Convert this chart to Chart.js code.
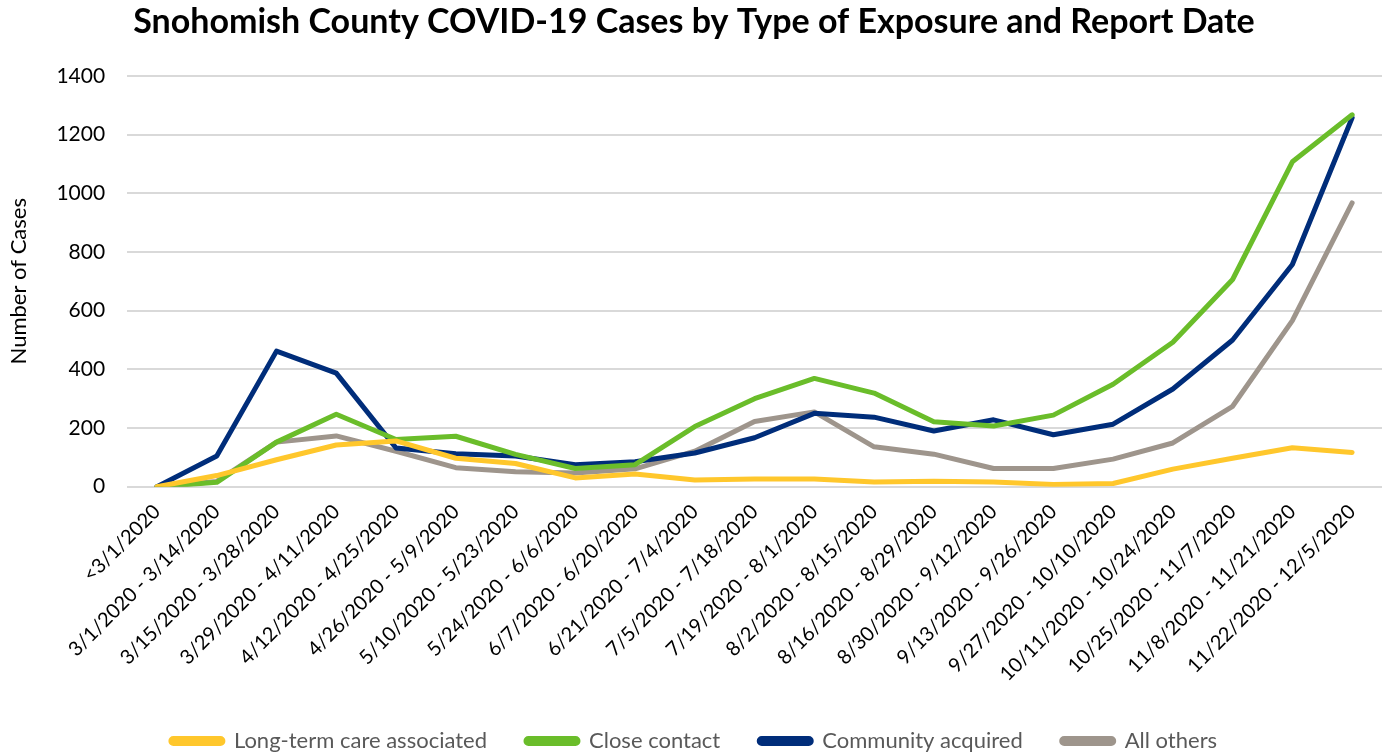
<!DOCTYPE html>
<html>
<head>
<meta charset="utf-8">
<script src="https://cdn.jsdelivr.net/npm/chart.js@4.4.0/dist/chart.umd.min.js"></script>
<style>
  html, body { margin: 0; padding: 0; background: #fff; }
  #wrap { width: 1384px; height: 754px; }
</style>
</head>
<body>
<div id="wrap"><canvas id="chart" width="1384" height="754"></canvas></div>
<script>
let periods = [
    "<3/1/2020", "3/1/2020 - 3/14/2020", "3/15/2020 - 3/28/2020", "3/29/2020 - 4/11/2020",
    "4/12/2020 - 4/25/2020", "4/26/2020 - 5/9/2020", "5/10/2020 - 5/23/2020", "5/24/2020 - 6/6/2020",
    "6/7/2020 - 6/20/2020", "6/21/2020 - 7/4/2020", "7/5/2020 - 7/18/2020", "7/19/2020 - 8/1/2020",
    "8/2/2020 - 8/15/2020", "8/16/2020 - 8/29/2020", "8/30/2020 - 9/12/2020", "9/13/2020 - 9/26/2020",
    "9/27/2020 - 10/10/2020", "10/11/2020 - 10/24/2020", "10/25/2020 - 11/7/2020",
    "11/8/2020 - 11/21/2020", "11/22/2020 - 12/5/2020"
];

let longTermCare = [0, 38, 92, 142, 156, 97, 79, 30, 43, 23, 26, 26, 16, 19, 16, 8, 11, 60, 97, 133, 117];
let closeContact = [0, 15, 152, 247, 161, 172, 110, 62, 75, 205, 300, 369, 319, 221, 207, 244, 349, 492, 706, 1107, 1267];
let community = [0, 105, 462, 387, 132, 112, 105, 75, 85, 115, 167, 250, 237, 190, 228, 177, 213, 333, 500, 757, 1257];
let allOthers = [0, 18, 152, 173, 121, 65, 51, 47, 61, 121, 222, 255, 136, 111, 62, 62, 94, 149, 274, 566, 967];

let fontFamily = "Lato, 'Open Sans', sans-serif";

function serie(label, values, color) {
    return {
        label: label,
        data: values,
        borderColor: color,
        backgroundColor: color,
        borderWidth: 5,
        pointRadius: 0,
        tension: 0,
        borderCapStyle: 'round',
        borderJoinStyle: 'round'
    };
}

function renderize() {
    let ctx = document.getElementById('chart');
    new Chart(ctx, {
        type: 'line',
        data: {
            labels: periods,
            datasets: [
                serie('Long-term care associated', longTermCare, '#FFC72C'),
                serie('Close contact', closeContact, '#6ABD2A'),
                serie('Community acquired', community, '#002D7A'),
                serie('All others', allOthers, '#9E958C')
            ]
        },
        options: {
            responsive: false,
            animation: false,
            layout: { padding: { left: 6, right: 2, top: 0, bottom: -8 } },
            plugins: {
                title: {
                    display: true,
                    text: 'Snohomish County COVID-19 Cases by Type of Exposure and Report Date',
                    color: '#000',
                    font: { family: fontFamily, size: 34, weight: 'bold' },
                    padding: { top: 2, bottom: 33 }
                },
                legend: {
                    position: 'bottom',
                    labels: {
                        color: '#595959',
                        font: { family: fontFamily, size: 22 },
                        boxWidth: 52,
                        boxHeight: 5,
                        padding: 39,
                        useBorderRadius: true,
                        borderRadius: 2.5
                    }
                },
                tooltip: { enabled: false }
            },
            scales: {
                x: {
                    offset: true,
                    grid: { display: false },
                    border: { display: false },
                    ticks: {
                        color: '#000',
                        font: { family: fontFamily, size: 20 },
                        minRotation: 45,
                        maxRotation: 45,
                        autoSkip: false,
                        padding: 5
                    }
                },
                y: {
                    min: 0,
                    max: 1400,
                    ticks: {
                        stepSize: 200,
                        color: '#000',
                        font: { family: fontFamily, size: 21 },
                        padding: 22,
                        callback: function (value) { return String(value); }
                    },
                    grid: { color: '#D9D9D9', lineWidth: 2, drawTicks: false },
                    border: { display: false },
                    title: {
                        display: true,
                        text: 'Number of Cases',
                        color: '#000',
                        font: { family: fontFamily, size: 22 },
                        padding: { top: 0, bottom: 2 }
                    }
                }
            }
        }
    });
}

window.onload = renderize;
</script>
</body>
</html>
